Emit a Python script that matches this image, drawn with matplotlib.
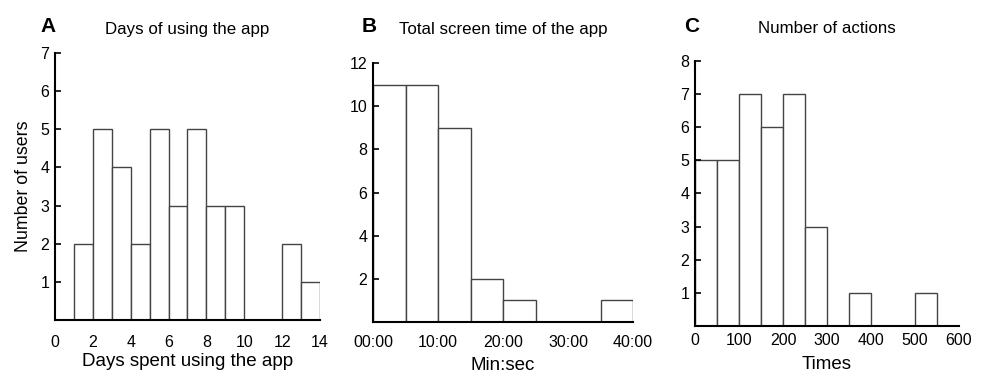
import matplotlib
matplotlib.use("Agg")
import matplotlib.pyplot as plt
import numpy as np

plt.rcParams["font.family"] = ["Liberation Sans", "DejaVu Sans"]

# A: days of using the app (bin width 1 day)
days_edges = np.arange(1, 15)
days_counts = [2, 5, 4, 2, 5, 3, 5, 3, 3, 0, 0, 2, 1]
days_xticks = [0, 2, 4, 6, 8, 10, 12, 14]

# B: total screen time (minutes, bin width 5 min)
time_edges = np.arange(0, 45, 5)
time_counts = [11, 11, 9, 2, 1, 0, 0, 1]
time_xticks = [0, 10, 20, 30, 40]
time_xticklabels = ["00:00", "10:00", "20:00", "30:00", "40:00"]

# C: number of actions (bin width 50)
act_edges = np.arange(0, 600, 50)
act_counts = [5, 5, 7, 6, 7, 3, 0, 1, 0, 0, 1]
act_xticks = [0, 100, 200, 300, 400, 500, 600]

fig = plt.figure(figsize=(9.85, 3.75), dpi=100)
axA = fig.add_axes([0.0558, 0.1467, 0.269, 0.712])
axB = fig.add_axes([0.3787, 0.1413, 0.264, 0.6907])
axC = fig.add_axes([0.7056, 0.1307, 0.268, 0.7067])


def hist_panel(ax, edges, counts, xlim, ylim, yticks, xticks, xpad):
    edges = np.asarray(edges)
    ax.bar(edges[:-1], counts, width=np.diff(edges), align="edge",
           facecolor="white", edgecolor="#444444", linewidth=1.0)
    ax.set_xlim(*xlim)
    ax.set_ylim(*ylim)
    ax.set_yticks(yticks)
    ax.set_xticks(xticks)
    for s in ["top", "right"]:
        ax.spines[s].set_visible(False)
    for s in ["left", "bottom"]:
        ax.spines[s].set_linewidth(1.5)
    ax.tick_params(axis="y", direction="in", length=4, width=1.2, labelsize=11.5, pad=4)
    ax.tick_params(axis="x", length=0, labelsize=11.5, pad=xpad)


hist_panel(axA, days_edges, days_counts, (0, 14), (0, 7), range(1, 8), days_xticks, 10.5)
axA.set_xlabel("Days spent using the app", fontsize=13.5, labelpad=2.5)
axA.set_ylabel("Number of users", fontsize=12.8, labelpad=6)
axA.set_title("Days of using the app", fontsize=12.2, pad=14)

hist_panel(axB, time_edges, time_counts, (0, 40), (0, 12), [2, 4, 6, 8, 10, 12], time_xticks, 9)
axB.set_xticklabels(time_xticklabels)
axB.set_xlabel("Min:sec", fontsize=13.5, labelpad=5.5)
axB.set_title("Total screen time of the app", fontsize=12.2, pad=21)

hist_panel(axC, act_edges, act_counts, (0, 600), (0, 8), range(1, 9), act_xticks, 5)
axC.set_xlabel("Times", fontsize=13.5, labelpad=6)
axC.set_title("Number of actions", fontsize=12.2, pad=20)

fig.text(40 / 985, 1 - 26 / 375, "A", fontsize=15, fontweight="bold", va="center")
fig.text(362 / 985, 1 - 26 / 375, "B", fontsize=15, fontweight="bold", va="center")
fig.text(684 / 985, 1 - 26 / 375, "C", fontsize=15, fontweight="bold", va="center")

fig.savefig("out.png", dpi=100)
plt.close(fig)
